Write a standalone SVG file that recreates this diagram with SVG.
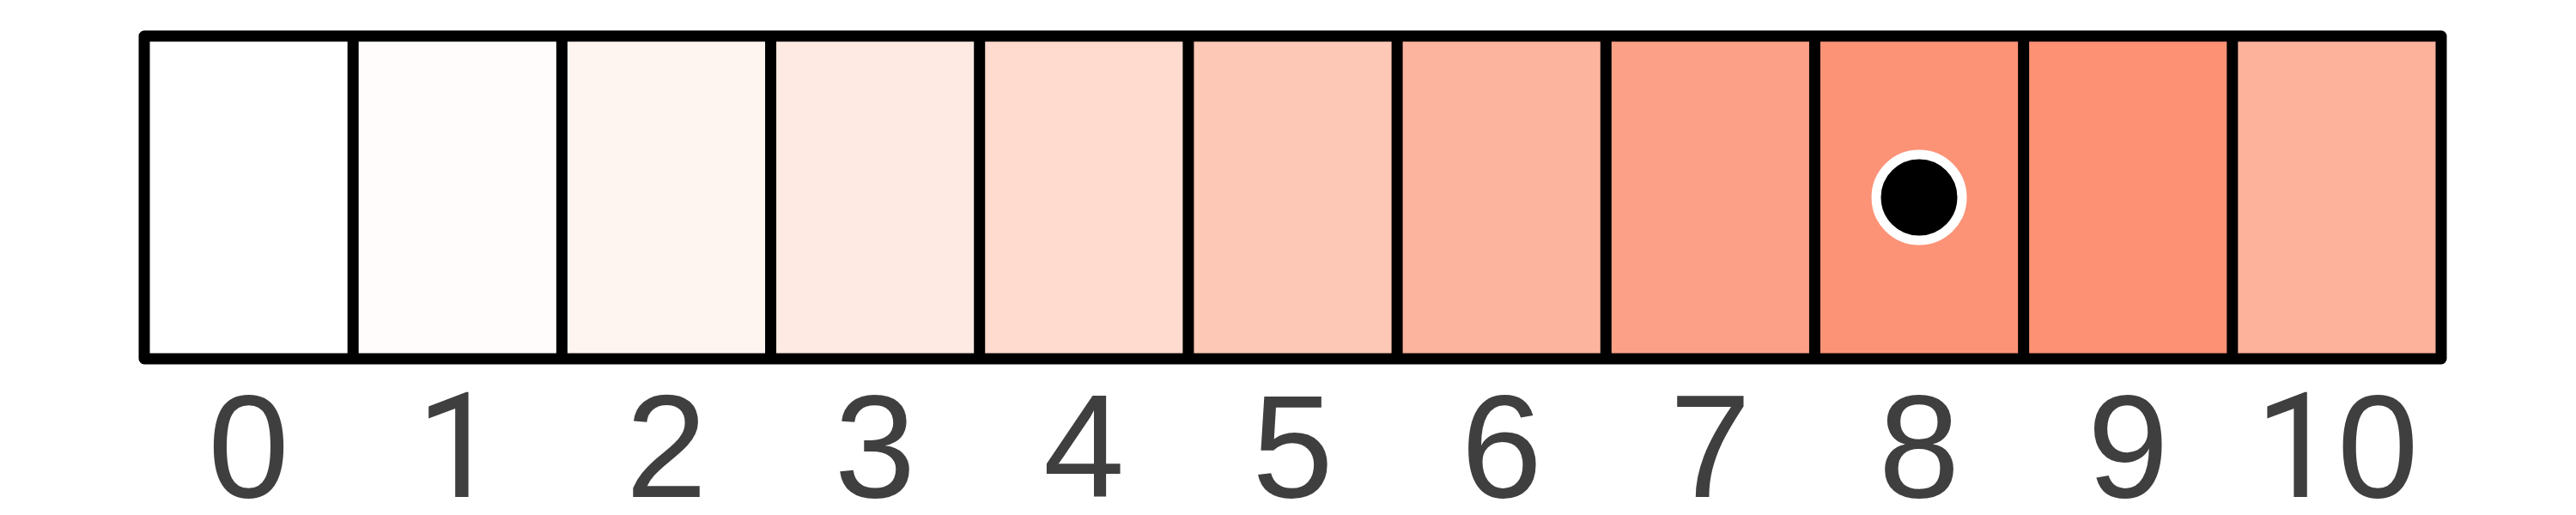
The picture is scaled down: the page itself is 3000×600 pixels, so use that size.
<svg xmlns="http://www.w3.org/2000/svg" width="3000" height="600" viewBox="0 0 3000 600">
  <style>
    .cell { stroke: none; }
    .div { stroke: #000; stroke-width: 13; }
    .frame { fill: none; stroke: #000; stroke-width: 13; stroke-linejoin: round; }
    .lbl { font-family: "Liberation Sans", Arial, Helvetica, sans-serif; font-size: 170px; fill: #3f3f3f; text-anchor: middle; }
    .one { font-family: Roboto, "Liberation Sans", Arial, sans-serif; }
  </style>
  <rect x="0" y="0" width="3000" height="600" fill="#ffffff"/>
  <g id="cells">
    <g id="cell-0"><rect class="cell" x="168" y="42" width="243.18" height="376" fill="#ffffff"/></g>
    <g id="cell-1"><rect class="cell" x="411.18" y="42" width="243.18" height="376" fill="#fffcfb"/></g>
    <g id="cell-2"><rect class="cell" x="654.36" y="42" width="243.18" height="376" fill="#fff5f0"/></g>
    <g id="cell-3"><rect class="cell" x="897.55" y="42" width="243.18" height="376" fill="#feeae2"/></g>
    <g id="cell-4"><rect class="cell" x="1140.73" y="42" width="243.18" height="376" fill="#fedbce"/></g>
    <g id="cell-5"><rect class="cell" x="1383.91" y="42" width="243.18" height="376" fill="#fdc8b6"/></g>
    <g id="cell-6"><rect class="cell" x="1627.09" y="42" width="243.18" height="376" fill="#fcb49e"/></g>
    <g id="cell-7"><rect class="cell" x="1870.27" y="42" width="243.18" height="376" fill="#fca187"/></g>
    <g id="cell-8"><rect class="cell" x="2113.45" y="42" width="243.18" height="376" fill="#fc9377"/></g>
    <g id="cell-9"><rect class="cell" x="2356.64" y="42" width="243.18" height="376" fill="#fc9174"/></g>
    <g id="cell-10"><rect class="cell" x="2599.82" y="42" width="243.18" height="376" fill="#fdb29c"/></g>
  </g>
  <g id="dividers">
    <line class="div" x1="411.18" y1="42" x2="411.18" y2="418"/>
    <line class="div" x1="654.36" y1="42" x2="654.36" y2="418"/>
    <line class="div" x1="897.55" y1="42" x2="897.55" y2="418"/>
    <line class="div" x1="1140.73" y1="42" x2="1140.73" y2="418"/>
    <line class="div" x1="1383.91" y1="42" x2="1383.91" y2="418"/>
    <line class="div" x1="1627.09" y1="42" x2="1627.09" y2="418"/>
    <line class="div" x1="1870.27" y1="42" x2="1870.27" y2="418"/>
    <line class="div" x1="2113.45" y1="42" x2="2113.45" y2="418"/>
    <line class="div" x1="2356.64" y1="42" x2="2356.64" y2="418"/>
    <line class="div" x1="2599.82" y1="42" x2="2599.82" y2="418"/>
  </g>
  <rect id="frame" class="frame" x="168" y="42" width="2675" height="376"/>
  <g id="marker">
    <circle cx="2235" cy="230" r="50" fill="#000000" stroke="#ffffff" stroke-width="11"/>
  </g>
  <g id="labels">
    <text class="lbl" x="289.59" y="579">0</text>
    <text class="lbl one" x="532.77" y="579">1</text>
    <text class="lbl" x="775.95" y="579">2</text>
    <text class="lbl" x="1019.14" y="579">3</text>
    <text class="lbl" x="1262.32" y="579">4</text>
    <text class="lbl" x="1505.5" y="579">5</text>
    <text class="lbl" x="1748.68" y="579">6</text>
    <text class="lbl" x="1991.86" y="579">7</text>
    <text class="lbl" x="2235.05" y="579">8</text>
    <text class="lbl" x="2478.23" y="579">9</text>
    <text class="lbl" x="2721.41" y="579"><tspan class="one">1</tspan>0</text>
  </g>
</svg>
